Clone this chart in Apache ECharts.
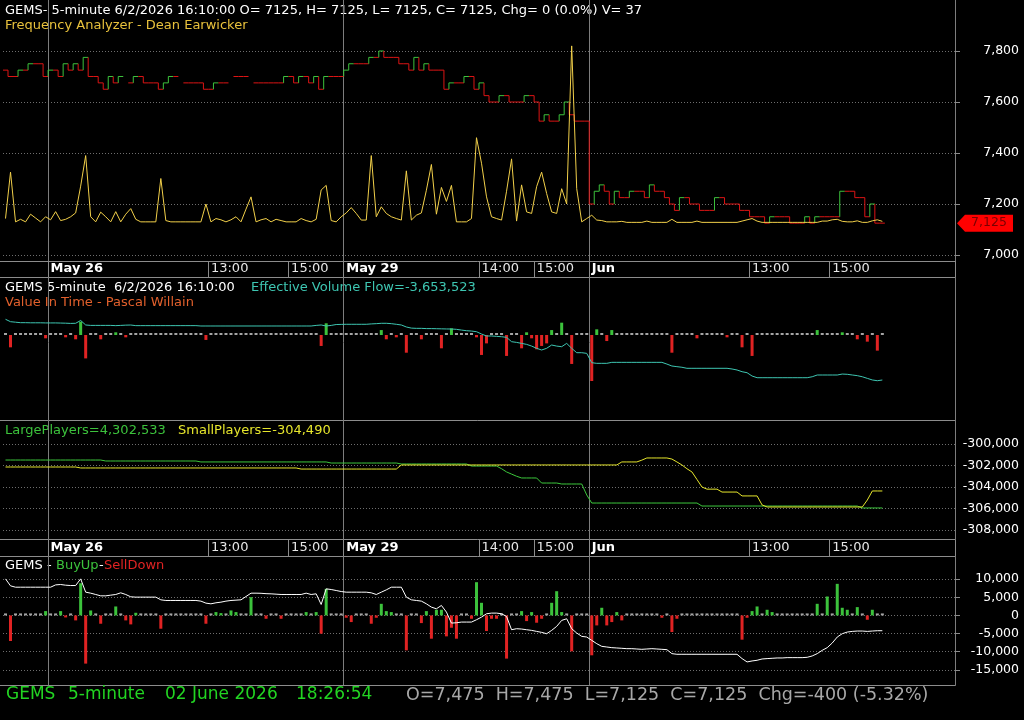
<!DOCTYPE html>
<html><head><meta charset="utf-8">
<script src="https://cdn.jsdelivr.net/npm/echarts@6/dist/echarts.min.js"></script>
<style>html,body{margin:0;padding:0;background:#000;}#c{width:1024px;height:720px;}</style>
</head><body><div id="c"></div><script>
// ---------- data (one entry per 5-minute bar) ----------
const price = [
7725,7700,7700,7725,7725,7750,7750,7750,7700,7725,
7725,7700,7750,7725,7750,7725,7775,7700,7700,7675,
7650,7700,7675,7700,null,7675,7700,7700,7675,7675,
7675,7650,7675,7700,7700,null,7675,7675,7675,7675,
7650,7650,7675,7675,7675,null,7700,7700,7700,null,
7675,7675,7675,7675,7675,7675,7700,7700,7675,7700,
7700,7675,7700,7650,7700,7700,7700,7700,7725,7750,
7750,7750,7750,7775,7775,7800,7775,7775,7775,7750,
7750,7725,7775,7725,7750,7725,7725,7725,7650,7675,
7675,7675,7700,7700,7650,7675,7625,7600,7600,7625,
7625,7600,7600,7600,7625,7625,7600,7525,7550,7525,
7525,7550,7600,7550,7525,7525,7525,7200,7250,7275,
7250,7200,7250,7225,7225,7250,7250,7250,7225,7275,
7250,7250,7225,7200,7175,7225,7225,7200,7200,7175,
7175,7175,7225,7225,7200,7200,7200,7175,7175,7150,
7150,7150,7125,7150,7150,7150,7150,7125,7125,7125,
7150,7125,7150,7150,7150,7150,7150,7250,7250,7250,
7225,7225,7150,7200,7125,7125];
const freqAnalyzer = [
7143,7325,7130,7140,7130,7160,7145,7130,7150,7138,
7170,7135,7140,7150,7165,7270,7390,7150,7130,7168,
7150,7130,7170,7130,7160,7182,7140,7130,7130,7130,
7130,7300,7135,7130,7130,7130,7130,7130,7130,7130,
7200,7130,7143,7138,7130,7138,7150,7130,7180,7228,
7130,7138,7143,7130,7140,7135,7130,7130,7130,7143,
7135,7130,7140,7255,7273,7135,7130,7150,7165,7186,
7163,7137,7137,7390,7150,7189,7163,7150,7143,7137,
7330,7137,7156,7165,7254,7355,7160,7265,7210,7273,
7130,7130,7130,7143,7460,7360,7228,7150,7143,7137,
7250,7377,7133,7275,7169,7163,7268,7325,7241,7169,
7163,7260,7200,7820,7260,7130,7143,7156,7137,7135,
7130,7130,7130,7132,7128,7128,7128,7128,7133,7128,
7128,7128,7128,7140,7128,7128,7128,7128,7133,7128,
7128,7128,7128,7128,7128,7128,7128,7133,7138,7143,
7133,7128,7128,7128,7128,7128,7128,7128,7128,7128,
7128,7128,7128,7133,7133,7138,7140,7132,7130,7130,
7134,7128,7128,7134,7138,7132];
// Effective Volume Flow (thousands)
const evfLine = [
1275,1080,1040,1000,1000,990,990,990,980,980,
980,970,960,940,950,1180,812,780,780,780,
780,780,760,780,800,810,760,760,760,760,
760,760,760,760,760,760,760,760,760,731,
731,731,731,731,731,731,731,731,731,731,
731,731,731,731,731,731,731,731,731,731,
731,731,780,812,731,780,850,860,870,870,
870,870,870,900,920,950,950,920,870,812,
650,560,540,540,520,520,510,500,490,487,
460,400,350,320,268,80,-81,-81,-110,-140,
-190,-544,-600,-680,-760,-900,-1080,-1218,-1080,-812,
-900,-950,-680,-1080,-1437,-1437,-1490,-2249,-2300,-2300,
-2300,-2220,-2220,-2220,-2220,-2220,-2220,-2220,-2220,-2220,
-2220,-2220,-2360,-2517,-2570,-2620,-2704,-2704,-2704,-2704,
-2704,-2704,-2704,-2704,-2704,-2760,-2840,-2980,-3061,-3330,
-3467,-3467,-3467,-3467,-3467,-3467,-3467,-3467,-3467,-3467,
-3467,-3390,-3248,-3248,-3248,-3248,-3248,-3170,-3190,-3248,
-3300,-3390,-3520,-3650,-3711,-3654];
const evfBars = [
0,-1000,0,0,0,130,0,0,-270,0,
0,0,-190,80,-350,1080,-1900,0,0,-350,
80,40,217,0,-190,0,80,0,0,0,
0,0,0,0,0,0,60,0,0,0,
-400,0,0,0,0,0,80,0,0,0,
60,0,0,0,0,0,0,0,0,60,
0,0,0,-890,950,0,0,0,130,0,
0,0,0,0,0,400,-350,0,-190,0,
-1437,0,0,-350,0,0,0,-1080,0,540,
0,0,0,0,-190,-1620,-680,0,0,0,
-1700,0,0,-1080,217,-270,-1160,-890,-680,400,
0,1000,130,-2350,0,0,0,-3735,460,0,
-490,400,0,0,0,0,0,0,0,80,
0,0,0,-1437,40,0,0,0,-270,0,
0,0,0,0,-190,0,0,-1000,0,-1700,
0,0,0,40,0,0,0,0,0,0,
0,0,400,0,0,0,0,217,0,0,
-350,0,-540,130,-1270,0];
const largePlayers = [
-301490,-301490,-301490,-301490,-301490,-301490,-301490,-301490,-301490,-301490,
-301490,-301490,-301490,-301490,-301490,-301490,-301490,-301490,-301490,-301490,
-301580,-301580,-301580,-301580,-301580,-301580,-301580,-301580,-301580,-301580,
-301580,-301580,-301580,-301580,-301580,-301580,-301580,-301580,-301580,-301670,
-301670,-301670,-301670,-301670,-301670,-301670,-301670,-301670,-301670,-301670,
-301670,-301670,-301670,-301670,-301670,-301670,-301670,-301670,-301670,-301670,
-301670,-301670,-301670,-301670,-301670,-301770,-301770,-301770,-301770,-301770,
-301770,-301770,-301770,-301770,-301770,-301770,-301770,-301770,-301770,-301860,
-301860,-301860,-301860,-301860,-301860,-301860,-301860,-301860,-301860,-301860,
-301860,-301860,-301860,-302050,-302050,-302050,-302050,-302050,-302050,-302300,
-302600,-302800,-303000,-303160,-303160,-303160,-303160,-303630,-303630,-303630,
-303630,-303720,-303720,-303720,-303720,-303720,-304740,-305490,-305490,-305490,
-305490,-305490,-305490,-305490,-305490,-305490,-305490,-305490,-305490,-305490,
-305490,-305490,-305490,-305490,-305490,-305490,-305490,-305490,-305490,-305770,
-305770,-305770,-305770,-305770,-305770,-305770,-305770,-305770,-305770,-305770,
-305770,-305770,-305770,-305770,-305770,-305770,-305770,-305770,-305770,-305770,
-305770,-305770,-305770,-305770,-305770,-305770,-305770,-305770,-305770,-305770,
-305770,-305950,-305950,-305950,-305950,-305950];
const smallPlayers = [
-302140,-302140,-302140,-302140,-302140,-302140,-302140,-302140,-302140,-302140,
-302140,-302140,-302140,-302140,-302140,-302230,-302230,-302230,-302230,-302230,
-302230,-302230,-302230,-302230,-302230,-302230,-302230,-302230,-302230,-302230,
-302230,-302230,-302230,-302230,-302230,-302230,-302230,-302230,-302230,-302230,
-302230,-302230,-302230,-302230,-302230,-302230,-302230,-302230,-302230,-302230,
-302230,-302230,-302230,-302230,-302230,-302230,-302230,-302230,-302230,-302330,
-302330,-302330,-302330,-302330,-302330,-302330,-302330,-302330,-302330,-302330,
-302330,-302330,-302330,-302330,-302330,-302330,-302330,-302330,-302330,-301950,
-301950,-301950,-301950,-301950,-301950,-301950,-301950,-301950,-301950,-301950,
-301950,-301950,-301950,-301950,-301950,-301950,-301950,-301950,-301950,-301950,
-301950,-301950,-301950,-301950,-301950,-301950,-301950,-301950,-301950,-301950,
-301950,-301950,-301950,-301950,-301950,-301950,-301950,-301950,-301950,-301950,
-301950,-301950,-301950,-301670,-301670,-301670,-301670,-301500,-301300,-301300,
-301300,-301300,-301300,-301400,-301670,-301950,-302300,-302600,-303300,-304000,
-304200,-304200,-304200,-304470,-304470,-304470,-304470,-304830,-304830,-304830,
-304830,-305670,-305860,-305860,-305860,-305860,-305860,-305860,-305860,-305860,
-305860,-305860,-305860,-305860,-305860,-305860,-305860,-305860,-305860,-305860,
-305860,-305860,-305210,-304370,-304370,-304370];
const buySellBars = [
300,-7050,460,460,460,300,300,300,1190,300,
300,1190,-460,300,-1370,8880,-13280,1370,300,-2290,
300,400,2470,300,-1370,-2470,730,300,300,300,
300,-3660,300,300,300,300,300,300,300,300,
-2290,300,920,640,300,1370,920,300,300,5040,
300,300,-920,300,300,-920,300,300,300,300,
920,300,920,-5040,7330,300,300,300,-640,-1830,
300,300,300,-2290,-640,3200,1190,920,300,300,
-9620,300,300,-2110,1190,-6410,1560,1560,-5770,-3390,
-6410,300,300,-920,9160,3480,-4300,-920,-920,300,
-11900,300,300,1190,-1560,920,-2010,-920,300,3480,
6680,920,300,-9890,300,300,300,-10990,-2750,2110,
-2750,-1830,920,-1370,300,300,300,300,300,300,
300,-640,300,-4580,-920,300,300,300,300,300,
300,300,300,300,300,300,300,-6680,-640,1190,
2470,300,1560,920,300,300,300,300,300,300,
300,300,3200,300,5220,300,8700,2110,1560,300,
2290,300,-1190,1560,300,300];
const buySellLine = [
10070,8150,7780,7780,7780,7780,7780,7780,7780,7780,
8420,8520,8330,8240,8240,10070,6410,6135,5770,5400,
5400,5590,5770,6230,5770,5130,5040,5040,5040,5040,
5040,4300,4120,4120,4120,4120,4120,4120,4120,3940,
3390,3200,3480,3660,3940,4120,4210,4300,5220,6135,
6135,6100,6000,5950,5860,5770,5770,5770,5770,5770,
6135,5770,5950,3020,7330,7140,6870,6590,6410,6410,
6410,6410,6410,6230,5770,6410,7050,7780,7780,7780,
5040,4300,4120,3940,3200,2290,1830,2750,920,-2110,
-2020,-1830,-1830,-1830,-1190,-460,460,640,640,460,
-275,-3940,-3660,-3750,-3940,-4120,-4400,-4670,-5040,-4120,
-3020,-1370,-920,-3660,-4850,-5770,-5950,-6870,-7780,-8520,
-8700,-8880,-8970,-9060,-9160,-9160,-9250,-9340,-9250,-9160,
-9250,-9340,-9430,-10530,-10710,-10710,-10710,-10710,-10710,-10710,
-10710,-10710,-10710,-10710,-10710,-10710,-10710,-11900,-12820,-12550,
-12360,-12000,-11900,-11810,-11720,-11720,-11630,-11630,-11630,-11630,
-11540,-11170,-10530,-9615,-8880,-7600,-5950,-5040,-4580,-4400,
-4300,-4300,-4400,-4300,-4210,-4210];
// time axis tick labels (bar index -> text)
const tickIndex = [9, 41, 57, 68, 95, 106, 117, 149, 165];
const tickText  = ['May 26','13:00','15:00','May 29','14:00','15:00','Jun','13:00','15:00'];
const dayIndex  = [9, 68, 117];
const SLOTS = 190;

// ---------- chart ----------
const FONT = 'DejaVu Sans';
const slots = Array.from({length: SLOTS}, (_, i) => String(i));
const fmt = v => Number(v).toLocaleString('en-US');
const GRID_LINE = '#8c8c8c';
const RED = '#e02323', GREEN = '#3cc23c', GRAY = '#a5a5a5';

const baseX = (g) => ({type:'category', gridIndex:g, data:slots, boundaryGap:true,
  axisLine:{show:false}, axisTick:{show:false}, axisLabel:{show:false}, splitLine:{show:false}});
const labeledX = (g, off) => Object.assign(baseX(g), {
  offset: off,
  axisTick:{show:true, length:16, interval:(i)=>tickIndex.includes(i), lineStyle:{color:GRID_LINE}},
  axisLabel:{show:true, interval:(i)=>tickIndex.includes(i), align:'left', margin:1,
    formatter:(v, i)=>{ const k = tickIndex.indexOf(i); const t = tickText[k];
      return dayIndex.includes(i) ? '{b|'+t+'}' : '{n|'+t+'}'; },
    rich:{b:{fontFamily:FONT, fontSize:13, fontWeight:'bold', color:'#ffffff'},
          n:{fontFamily:FONT, fontSize:13, color:'#e6e6e6'}}}
});
const dotted = {show:true, lineStyle:{color:'#6e6e6e', type:[1,2], width:1}};
const yLab = {color:'#ffffff', fontFamily:FONT, fontSize:12.5, align:'right', margin:64, formatter:fmt};

const priceData = price.map((p, i) => p == null ? null :
  [i, p, (i > 0 && price[i-1] != null) ? price[i-1] : p]).filter(Boolean);
let lastIdx = price.length - 1; while (price[lastIdx] == null) lastIdx--;

const barColor = (lo, hi) => (p) => p.value >= hi ? GREEN : (p.value <= lo ? RED : GRAY);

const txt = (x, y, s, color, size, weight) => ({type:'text', left:x, top:y, silent:true,
  style:{text:s, fill:color, font:(weight||'normal')+' '+(size||13)+'px "DejaVu Sans"'}});
const hl = (y) => ({type:'line', silent:true, shape:{x1:0, y1:y, x2:955.5, y2:y}, style:{stroke:GRID_LINE, lineWidth:1}});

const option = {
  animation:false,
  backgroundColor:'#000000',
  grid:[
    {left:3, width:952, top:-1, height:256},
    {left:3, width:952, top:278, height:142},
    {left:3, width:952, top:444, height:86},
    {left:3, width:952, top:561, height:127},
    {left:3, width:952, top:0, height:685}
  ],
  xAxis:[
    labeledX(0, 6), baseX(1), labeledX(2, 10), baseX(3),
    Object.assign(baseX(4), {splitLine:{show:true, interval:(i)=>dayIndex.includes(i), lineStyle:{color:'#7d7d7d', width:1}}})
  ],
  yAxis:[
    {type:'value', gridIndex:0, position:'right', min:7000, max:8000, interval:200,
     axisLine:{show:false}, axisTick:{show:true, length:5, lineStyle:{color:GRID_LINE}},
     axisLabel:Object.assign({showMaxLabel:false}, yLab),
     splitLine:Object.assign({showMaxLine:false}, dotted)},
    {type:'value', gridIndex:1, min:-6900, max:4627, show:false},
    {type:'value', gridIndex:2, position:'right', min:-308000, max:-300000, interval:2000,
     axisLine:{show:false}, axisTick:{show:false}, axisLabel:yLab, splitLine:dotted},
    {type:'value', gridIndex:3, position:'right', min:-20000, max:15000, interval:5000,
     axisLine:{show:false}, axisTick:{show:true, length:5, lineStyle:{color:GRID_LINE}},
     axisLabel:Object.assign({showMaxLabel:false, showMinLabel:false}, yLab),
     splitLine:Object.assign({showMaxLine:false, showMinLine:false}, dotted)},
    {type:'value', gridIndex:4, min:0, max:1, show:false}
  ],
  series:[
    {type:'custom', name:'price', xAxisIndex:0, yAxisIndex:0, data:priceData, encode:{x:0, y:1}, z:2, clip:true,
     renderItem:(params, api) => {
       const i = api.value(0), p = api.value(1), q = api.value(2);
       const c = api.coord([i, p]); const w = api.size([1, 0])[0];
       const col = p > q ? GREEN : '#dc1414';
       const x0 = c[0] - w/2, x1 = c[0] + w/2;
       const ch = [{type:'line', shape:{x1:x0, y1:c[1], x2:x1, y2:c[1]}, style:{stroke:col, lineWidth:1}}];
       if (q !== p) { const cq = api.coord([i, q]);
         ch.push({type:'line', shape:{x1:x0, y1:cq[1], x2:x0, y2:c[1]}, style:{stroke:col, lineWidth:1}}); }
       return {type:'group', children:ch};
     }},
    {type:'line', name:'Frequency Analyzer', xAxisIndex:0, yAxisIndex:0, data:freqAnalyzer, z:3,
     symbol:'none', lineStyle:{color:'#f2d04a', width:1}},
    {type:'custom', name:'last', xAxisIndex:0, yAxisIndex:0, data:[[lastIdx, price[lastIdx]]], encode:{x:0, y:1}, z:10, clip:false,
     renderItem:(params, api) => {
       const y = api.coord([api.value(0), api.value(1)])[1];
       const x = params.coordSys.x + params.coordSys.width + 2;
       return {type:'group', children:[
         {type:'polygon', shape:{points:[[x, y], [x+8, y-8.5], [x+56, y-8.5], [x+56, y+8.5], [x+8, y+8.5]]}, style:{fill:'#ff0000'}},
         {type:'text', style:{text:fmt(api.value(1)), x:x+32, y:y, align:'center', verticalAlign:'middle',
           textAlign:'center', textVerticalAlign:'middle', fill:'#7a0000', font:'12.5px "DejaVu Sans"'}}]};
     }},
    {type:'bar', name:'EVF bars', xAxisIndex:1, yAxisIndex:1, data:evfBars, barWidth:3, barMinHeight:2,
     itemStyle:{color:barColor(-150, 200)}},
    {type:'line', name:'Effective Volume Flow', xAxisIndex:1, yAxisIndex:1, data:evfLine, symbol:'none',
     lineStyle:{color:'#3ec6b2', width:1}, z:3},
    {type:'line', name:'LargePlayers', xAxisIndex:2, yAxisIndex:2, data:largePlayers, symbol:'none',
     lineStyle:{color:'#3cc83c', width:1}},
    {type:'line', name:'SmallPlayers', xAxisIndex:2, yAxisIndex:2, data:smallPlayers, symbol:'none',
     lineStyle:{color:'#e6e62c', width:1}},
    {type:'bar', name:'BuyUp-SellDown', xAxisIndex:3, yAxisIndex:3, data:buySellBars, barWidth:3, barMinHeight:2,
     itemStyle:{color:barColor(-400, 600)}},
    {type:'line', name:'BuyUp-SellDown line', xAxisIndex:3, yAxisIndex:3, data:buySellLine, symbol:'none',
     lineStyle:{color:'#ffffff', width:1}, z:3}
  ],
  graphic:[
    hl(261.5), hl(277.5), hl(420.5), hl(539.5), hl(556.5), hl(685.5),
    {type:'line', silent:true, shape:{x1:955.5, y1:0, x2:955.5, y2:685.5}, style:{stroke:GRID_LINE, lineWidth:1}},
    txt(5, 4, 'GEMS- 5-minute 6/2/2026 16:10:00 O= 7125, H= 7125, L= 7125, C= 7125, Chg= 0 (0.0%) V= 37', '#ffffff'),
    txt(5, 19, 'Frequency Analyzer - Dean Earwicker', '#e9c23c'),
    txt(5, 281, 'GEMS 5-minute  6/2/2026 16:10:00', '#ffffff'),
    txt(251, 281, 'Effective Volume Flow=-3,653,523', '#3ec6b2'),
    txt(5, 296, 'Value In Time - Pascal Willain', '#e2602c'),
    txt(5, 424, 'LargePlayers=4,302,533', '#3cc23c'),
    txt(178, 424, 'SmallPlayers=-304,490', '#e6e62c'),
    txt(5, 559, 'GEMS - ', '#ffffff'),
    txt(56, 559, 'BuyUp', '#3cc23c'),
    txt(99, 559, '-', '#ffffff'),
    txt(104, 559, 'SellDown', '#e02323'),
    txt(6, 686, 'GEMS', '#22d422', 17),
    txt(68, 686, '5-minute', '#22d422', 17),
    txt(165, 686, '02 June 2026', '#22d422', 17),
    txt(296, 686, '18:26:54', '#22d422', 17),
    txt(406, 686, 'O=7,475  H=7,475  L=7,125  C=7,125  Chg=-400 (-5.32%)', '#a8a8a8', 17.5)
  ]
};
const chart = echarts.init(document.getElementById('c'));
chart.setOption(option);
</script></body></html>
